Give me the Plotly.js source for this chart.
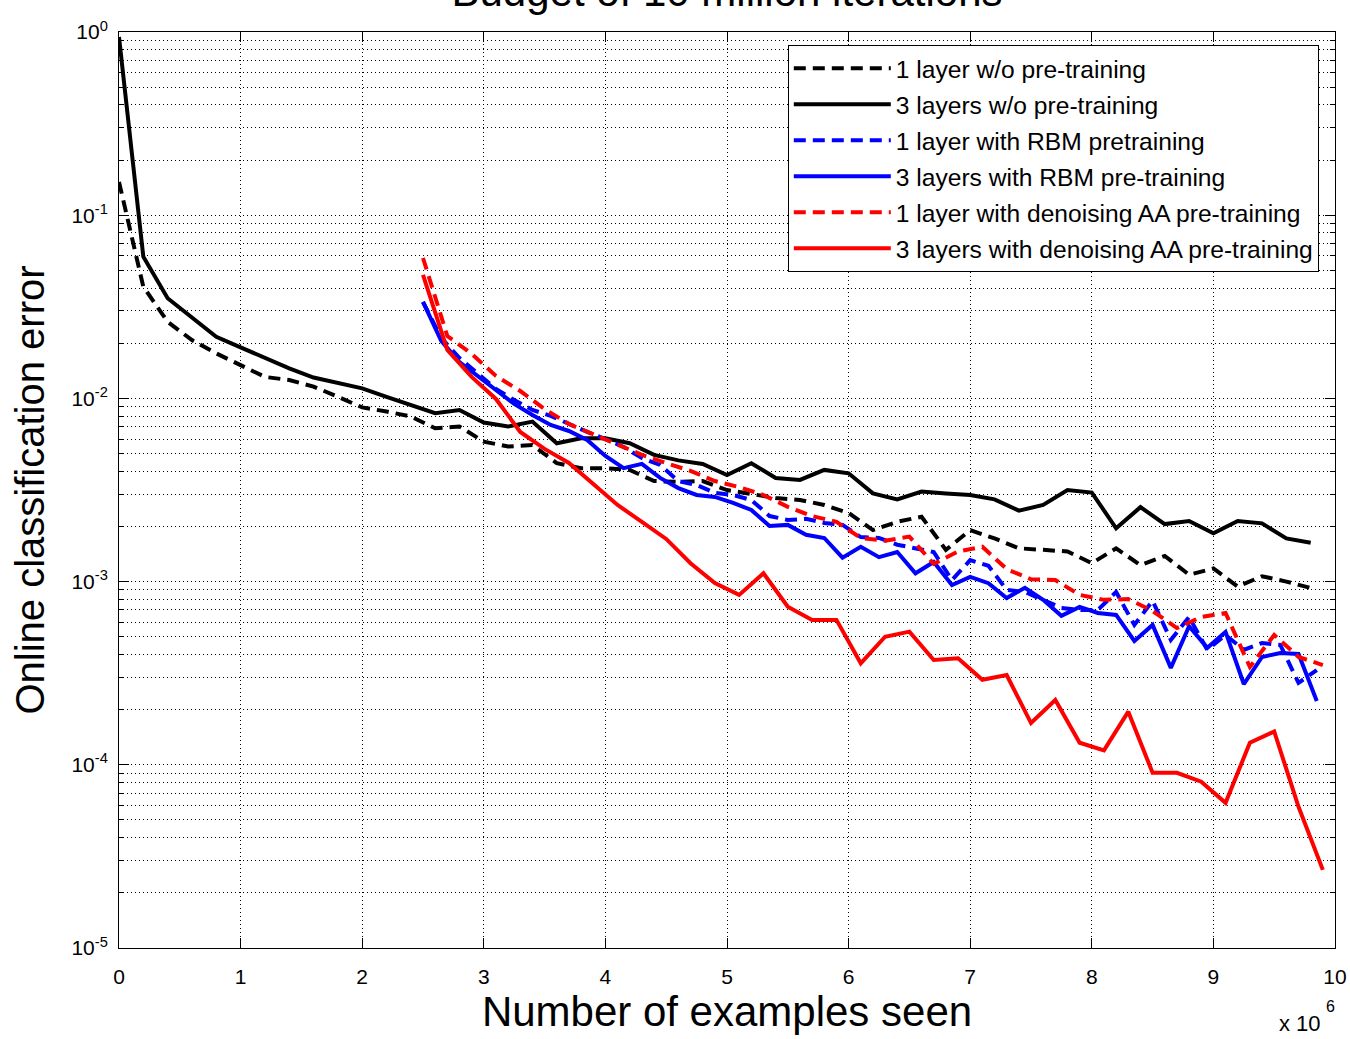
<!DOCTYPE html>
<html>
<head>
<meta charset="utf-8">
<script src="https://cdn.plot.ly/plotly-3.0.1.min.js"></script>
<style>
  html, body { margin: 0; padding: 0; background: #fff; }
  #chart { width: 1350px; height: 1039px; }
</style>
</head>
<body>
<div id="chart"></div>
<script>
// x positions in millions of examples
const xNoPre = [0,0.2,0.4,0.6,0.8,1.0,1.2,1.4,1.6,1.8,2.0,2.2,2.4,2.6,2.8,3.0,3.2,3.4,3.6,3.8,4.0,4.2,4.4,4.6,4.8,5.0,5.2,5.4,5.6,5.8,6.0,6.2,6.4,6.6,6.8,7.0,7.2,7.4,7.6,7.8,8.0,8.2,8.4,8.6,8.8,9.0,9.2,9.4,9.6,9.8];
const xRBM = [2.5,2.65,2.8,2.95,3.1,3.25,3.4,3.55,3.7,3.85,4.0,4.15,4.3,4.45,4.6,4.75,4.9,5.05,5.2,5.35,5.5,5.65,5.8,5.95,6.1,6.25,6.4,6.55,6.7,6.85,7.0,7.15,7.3,7.45,7.6,7.75,7.9,8.05,8.2,8.35,8.5,8.65,8.8,8.95,9.1,9.25,9.4,9.55,9.7,9.85];
const xDAA = [2.5,2.7,2.9,3.1,3.3,3.5,3.7,3.9,4.1,4.3,4.5,4.7,4.9,5.1,5.3,5.5,5.7,5.9,6.1,6.3,6.5,6.7,6.9,7.1,7.3,7.5,7.7,7.9,8.1,8.3,8.5,8.7,8.9,9.1,9.3,9.5,9.7,9.9];

// online classification error
const oneLayerNoPre = [0.152,0.0407,0.0262,0.0208,0.0176,0.0152,0.0131,0.0126,0.0116,0.0102,0.00893,0.00848,0.00796,0.00687,0.00702,0.00581,0.00546,0.00557,0.00443,0.00416,0.00416,0.00407,0.00354,0.00350,0.00354,0.00316,0.00301,0.00286,0.00279,0.00262,0.00237,0.00191,0.00212,0.00226,0.00149,0.00191,0.00172,0.00152,0.00149,0.00146,0.00126,0.00152,0.00123,0.00138,0.00109,0.00118,0.000939,0.00107,0.00100,0.000923];
const threeLayersNoPre = [0.94,0.0594,0.0352,0.0276,0.0217,0.0190,0.01655,0.0146,0.0130,0.0122,0.01135,0.0102,0.00924,0.00831,0.00865,0.00738,0.00702,0.00747,0.00569,0.00606,0.00606,0.00569,0.00492,0.00459,0.00439,0.00382,0.00443,0.00368,0.00359,0.00407,0.00390,0.00303,0.00281,0.00310,0.00303,0.00297,0.00281,0.00244,0.00262,0.00316,0.00306,0.001955,0.00255,0.00206,0.00214,0.001835,0.00214,0.00208,0.00172,0.00163];
const oneLayerRBM = [0.0336,0.0214,0.0166,0.0136,0.01125,0.0098,0.00865,0.00803,0.00725,0.00656,0.00600,0.00543,0.00473,0.00433,0.00354,0.00337,0.00305,0.00297,0.00279,0.00228,0.00217,0.00220,0.00209,0.00204,0.00175,0.00173,0.00159,0.00151,0.00145,0.00102,0.00131,0.00122,0.000901,0.000878,0.000795,0.000718,0.000700,0.000700,0.000878,0.000580,0.000785,0.000480,0.000641,0.000424,0.000511,0.000424,0.000462,0.000451,0.000280,0.000329];
const threeLayersRBM = [0.0336,0.0206,0.0158,0.01325,0.01097,0.00933,0.00812,0.00716,0.00664,0.00593,0.00485,0.00416,0.00439,0.00368,0.00324,0.00297,0.00290,0.00269,0.00246,0.00201,0.00204,0.00180,0.00173,0.00135,0.00155,0.00136,0.00145,0.00111,0.00128,0.000957,0.00106,0.00098,0.000814,0.000926,0.000795,0.000650,0.000727,0.000674,0.000658,0.000474,0.000580,0.000338,0.000571,0.000435,0.000531,0.000276,0.000388,0.000408,0.000403,0.000223];
const oneLayerDAA = [0.0584,0.0219,0.0175,0.01325,0.01097,0.00875,0.00725,0.00639,0.00557,0.00492,0.00444,0.00402,0.00354,0.00328,0.00297,0.00256,0.00228,0.00212,0.00173,0.00167,0.00176,0.00125,0.00146,0.00155,0.00117,0.00103,0.00102,0.000846,0.000795,0.000803,0.000691,0.000558,0.000641,0.000674,0.000342,0.000511,0.000388,0.000350];
const threeLayersDAA = [0.0473,0.0184,0.0131,0.00993,0.00656,0.00530,0.00444,0.00341,0.00262,0.00212,0.00171,0.00126,0.000983,0.000846,0.00111,0.000730,0.000618,0.000618,0.000358,0.000500,0.000533,0.000373,0.000381,0.000291,0.000309,0.000169,0.000226,0.000132,0.000120,0.000195,0.0000904,0.0000904,0.0000809,0.0000620,0.000132,0.000152,0.0000590,0.0000267];

const seriesNames = [
  "1 layer w/o pre-training",
  "3 layers w/o pre-training",
  "1 layer with RBM pretraining",
  "3 layers with RBM pre-training",
  "1 layer with denoising AA pre-training",
  "3 layers with denoising AA pre-training"
];
const yTickVals = [1e-5, 1e-4, 1e-3, 1e-2, 1e-1, 1];
const yTickText = ["10<sup>-5</sup>","10<sup>-4</sup>","10<sup>-3</sup>","10<sup>-2</sup>","10<sup>-1</sup>","10<sup>0</sup>"];
const xTickVals = [0,1,2,3,4,5,6,7,8,9,10];

const LW = 4;
const DASH = "12px,7px";
function tr(x, y, name, color, dash, i) {
  return {
    type: "scatter", mode: "lines", x: x, y: y, name: name,
    legendgroup: "g" + i,
    line: { color: color, width: LW, dash: dash }
  };
}
const data = [
  tr(xNoPre, oneLayerNoPre, seriesNames[0], "#000000", DASH, 0),
  tr(xNoPre, threeLayersNoPre, seriesNames[1], "#000000", "solid", 1),
  tr(xRBM, oneLayerRBM, seriesNames[2], "#0000ff", DASH, 2),
  tr(xRBM, threeLayersRBM, seriesNames[3], "#0000ff", "solid", 3),
  tr(xDAA, oneLayerDAA, seriesNames[4], "#ff0000", DASH, 4),
  tr(xDAA, threeLayersDAA, seriesNames[5], "#ff0000", "solid", 5)
];

const FONT = "Liberation Sans, Arial, Helvetica, sans-serif";
const GRID_DASH = "1px,3px";
const layout = {
  width: 1350, height: 1039,
  margin: { l: 119, r: 15, t: 32, b: 91 },
  paper_bgcolor: "#ffffff", plot_bgcolor: "#ffffff",
  font: { family: FONT, color: "#000000", size: 21 },
  title: {
    text: "Budget of 10 million iterations",
    font: { family: FONT, size: 42, color: "#000" },
    x: 0.5, xref: "paper", xanchor: "center",
    y: 1, yref: "paper", yanchor: "bottom",
    pad: { b: 26 }
  },
  showlegend: true,
  legend: {
    x: 0.55, y: 0.986, xanchor: "left", yanchor: "top",
    bgcolor: "#ffffff", bordercolor: "#000000", borderwidth: 1,
    font: { family: FONT, size: 24.6, color: "#000" },
    itemwidth: 97, tracegroupgap: 1, traceorder: "grouped"
  },
  xaxis: {
    range: [0, 10], tickvals: xTickVals, ticktext: xTickVals.map(String),
    showline: true, linecolor: "#000", linewidth: 1, mirror: "ticks",
    ticks: "inside", ticklen: 10, tickcolor: "#000",
    showgrid: true, gridcolor: "#000", griddash: GRID_DASH, gridwidth: 1,
    zeroline: false, ticklabelstandoff: 10,
    tickfont: { family: FONT, size: 21 },
    title: { text: "Number of examples seen", font: { family: FONT, size: 42 }, standoff: 8 },
    automargin: false
  },
  yaxis: {
    type: "log", range: [-5, 0],
    tickvals: yTickVals, ticktext: yTickText,
    showline: true, linecolor: "#000", linewidth: 1, mirror: "ticks",
    ticks: "inside", ticklen: 10, tickcolor: "#000",
    showgrid: true, gridcolor: "#000", griddash: GRID_DASH, gridwidth: 1,
    zeroline: false, ticklabelstandoff: 6,
    tickfont: { family: FONT, size: 21 },
    minor: { dtick: "D1", ticks: "inside", ticklen: 5, tickcolor: "#000", showgrid: true, gridcolor: "#000", griddash: GRID_DASH, gridwidth: 1 },
    title: { text: "Online classification error", font: { family: FONT, size: 40 }, standoff: 14 },
    automargin: false
  },
  annotations: [
    {
      text: "x 10", xref: "paper", yref: "paper", x: 1, y: 0,
      xanchor: "right", yanchor: "middle", yshift: -75, xshift: -12,
      showarrow: false, font: { family: FONT, size: 22, color: "#000" }
    },
    {
      text: "6", xref: "paper", yref: "paper", x: 1, y: 0,
      xanchor: "center", yanchor: "middle", yshift: -58, xshift: -5,
      showarrow: false, font: { family: FONT, size: 16, color: "#000" }
    }
  ]
};

Plotly.newPlot("chart", data, layout, { displayModeBar: false, staticPlot: true });
</script>
</body>
</html>
